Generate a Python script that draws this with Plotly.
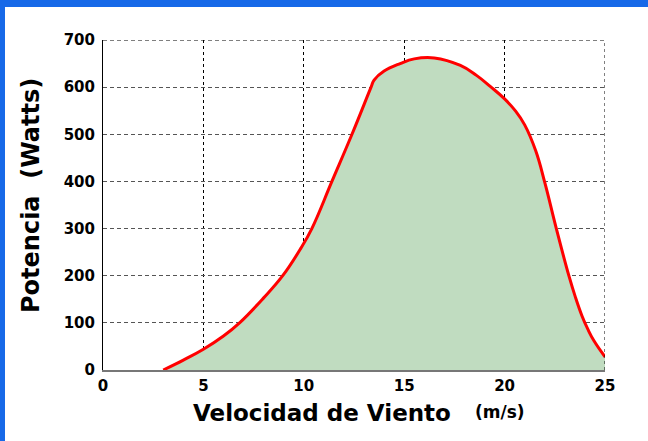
import plotly.graph_objects as go

# Data
wind_speed = [3, 4, 5, 6, 6.8, 8, 8.95, 9.85, 10.4, 11.4, 12.4, 13.35, 13.5, 14, 14.8,
              15.5, 16.5, 17.8, 18.6, 19.3, 20, 20.55, 21.0, 21.55, 22.0, 22.57,
              23.2, 23.53, 23.86, 24.15, 24.45, 25]
power_w = [0, 21, 44, 72, 100, 153, 200, 258, 300, 400, 500, 600, 615, 634, 650,
           660, 662, 646, 625, 601, 575, 549, 520, 465, 398, 301,
           200, 154, 114, 86, 62, 28]
x_ticks = [0, 5, 10, 15, 20, 25]
y_ticks = [0, 100, 200, 300, 400, 500, 600, 700]

L, R, T, B = 103, 605, 40, 370
W, H = 648, 441
FONT = "DejaVu Sans, Liberation Sans, Arial, sans-serif"


def px_x(p):
    return (p - L) / (R - L)


def px_y(p):
    return (B - p) / (B - T)


fig = go.Figure()
fig.add_trace(go.Scatter(
    x=wind_speed, y=power_w, mode="lines",
    line=dict(color="#ff0000", width=3, shape="spline", smoothing=1.2),
    fill="tozeroy", fillcolor="#c0dcc0", hoverinfo="skip", showlegend=False,
))

tick_font = dict(family=FONT, size=15, color="black")

fig.update_layout(
    width=W, height=H,
    margin=dict(l=L, r=W - R, t=T, b=H - B),
    paper_bgcolor="white", plot_bgcolor="white",
    xaxis=dict(range=[0, 25], tickvals=x_ticks, ticktext=[f"<b>{v}</b>" for v in x_ticks],
               showgrid=True, gridcolor="black", gridwidth=1, griddash="3px,3px",
               zeroline=False, showline=True, linecolor="#777777", linewidth=2,
               ticks="", tickfont=tick_font, ticklabelstandoff=1),
    yaxis=dict(range=[0, 700], tickvals=y_ticks, ticktext=[f"<b>{v}</b>" for v in y_ticks],
               showgrid=True, gridcolor="#555555", gridwidth=1.3, griddash="4px,3px",
               zeroline=False, showline=True, linecolor="black", linewidth=1,
               ticks="", tickfont=tick_font, ticklabelstandoff=4),
    shapes=[
        dict(type="line", xref="x", yref="y", x0=0, x1=25, y0=700, y1=700,
             line=dict(color="#555555", width=1.3, dash="4px,3px"), layer="below"),
        dict(type="line", xref="x", yref="y", x0=25, x1=25, y0=0, y1=700,
             line=dict(color="black", width=1, dash="3px,3px"), layer="above"),
        dict(type="rect", xref="paper", yref="paper", x0=px_x(0), x1=px_x(W),
             y0=px_y(7), y1=px_y(0), fillcolor="#1769e8", line=dict(width=0), layer="above"),
        dict(type="rect", xref="paper", yref="paper", x0=px_x(0), x1=px_x(5),
             y0=px_y(H), y1=px_y(0), fillcolor="#1769e8", line=dict(width=0), layer="above"),
    ],
    annotations=[
        dict(text="<b>Velocidad de Viento</b>", xref="paper", yref="paper",
             x=px_x(322), y=px_y(413), xanchor="center", yanchor="middle", showarrow=False,
             font=dict(family=FONT, size=23, color="black")),
        dict(text="<b>(m/s)</b>", xref="paper", yref="paper",
             x=px_x(500), y=px_y(412), xanchor="center", yanchor="middle", showarrow=False,
             font=dict(family=FONT, size=17, color="black")),
        dict(text="<b>Potencia  (Watts)</b>", xref="paper", yref="paper",
             x=px_x(31), y=px_y(196), xanchor="center", yanchor="middle", showarrow=False,
             textangle=-90,
             font=dict(family=FONT, size=24, color="black")),
    ],
)

fig.write_html("out.html", config={"displayModeBar": False},
               post_script="document.body.style.margin='0px';")
